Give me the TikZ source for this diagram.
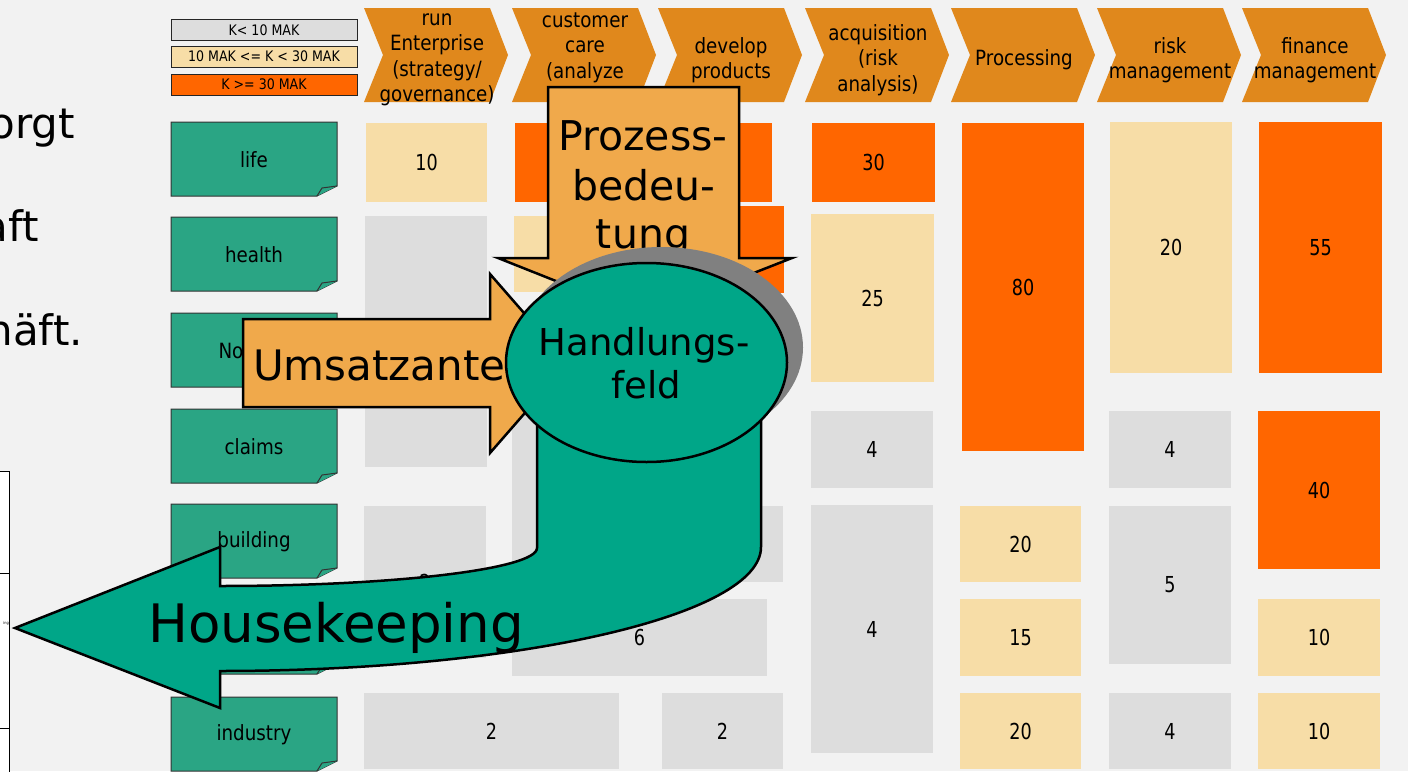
\documentclass[tikz,border=0pt]{standalone}
\usepackage{fontspec}
\setmainfont{DejaVu Sans}
\newfontfamily\tah[FakeStretch=0.87]{DejaVu Sans}
\newfontfamily\tahnum[FakeStretch=0.8]{DejaVu Sans}
\usetikzlibrary{shapes.geometric}

\definecolor{bgc}{HTML}{F2F2F2}
\definecolor{cgray}{HTML}{DDDDDD}
\definecolor{cbeige}{HTML}{F7DDA7}
\definecolor{corange}{HTML}{FF6600}
\definecolor{chevc}{HTML}{E0881C}
\definecolor{lgreen}{HTML}{2AA584}
\definecolor{tealc}{HTML}{00A688}
\definecolor{lorange}{HTML}{F0A94B}
\definecolor{shadowc}{HTML}{808080}

\tikzset{
  cellbox/.style={draw=none, inner sep=0, outer sep=0,
    font=\tahnum\fontsize{22}{26}\selectfont},
  legbox/.style={draw=black!85, line width=0.9pt, inner sep=0,
    minimum width=186pt, minimum height=21pt,
    font=\tah\fontsize{14.5}{16}\selectfont},
  chevshape/.style={fill=chevc, draw=none},
  chevtext/.style={align=center, inner sep=0,
    font=\tah\fontsize{21}{25.5}\selectfont},
  labelshape/.style={fill=lgreen, draw=black!80, line width=1pt},
  labeltext/.style={inner sep=0, font=\tah\fontsize{21}{25}\selectfont},
  bigarrow/.style={draw=black, line width=2.5pt, line join=miter},
  bigtext/.style={inner sep=0},
  lefttext/.style={inner sep=0, text=black,
    font=\fontsize{42}{50}\selectfont},
}

% grid cell: name, x1, y1, x2, y2, colour, value
\newcommand\mkcell[7]{%
  \node[cellbox, fill=#6, minimum width={(#4-#2)*1pt},
    minimum height={(#5-#3)*1pt}] (#1) at ({(#2+#4)/2},{(#3+#5)/2}) {#7};}

% process chevron: name, left x, text
\newcommand\mkchev[3]{%
  \fill[chevshape] (#2,8) -- ({#2+126},8) -- ({#2+144},55) -- ({#2+126},102)
    -- (#2,102) -- ({#2+19},55) -- cycle;
  \node[chevtext] (#1) at ({#2+73},60) {#3};}

% row label with folded corner: name, centre y, text
\newcommand\mkrow[3]{%
  \filldraw[labelshape] (171,{#2-37}) -- (337,{#2-37}) -- (337,{#2+27})
    -- (317,{#2+37}) -- (171,{#2+37}) -- cycle;
  \filldraw[labelshape, line join=round] (317,{#2+37}) -- (322,{#2+29}) -- (337,{#2+27});
  \node[labeltext] (#1) at (254,{#2+1}) {#3};}

\begin{document}
\begin{tikzpicture}[x=1pt, y=-1pt]
  \useasboundingbox (0,0) rectangle (1408,771);
  \fill[bgc] (0,0) rectangle (1408,771);

  % text running in from the left margin
  \node[lefttext, anchor=base east] (lt1) at (75,138) {orgt};
  \node[lefttext, anchor=base east] (lt2) at (39,241) {aft};
  \node[lefttext, anchor=base east] (lt3) at (83,345) {häft.};

  % small table at the lower left edge
  \filldraw[fill=white, draw=black, line width=0.8pt] (-10,471) rectangle (9,790);
  \draw[black, line width=0.8pt] (-10,573) -- (9,573);
  \draw[black, line width=0.8pt] (-10,728) -- (9,728);
  \node[inner sep=0, anchor=east, font=\tah\fontsize{4}{5}\selectfont] (mini) at (9,623) {ing};

  % legend
  \node[legbox, fill=cgray] (leg1) at (264,30) {K< 10 MAK};
  \node[legbox, fill=cbeige] (leg2) at (264,56.5) {10 MAK <= K < 30 MAK};
  \node[legbox, fill=corange] (leg3) at (264,84.5) {K >= 30 MAK};

  % process chain
  \mkchev{p1}{364}{run\\Enterprise\\(strategy/\\governance)}
  \fill[chevshape] (512,8) -- (638,8) -- (656,55) -- (638,102) -- (512,102) -- (531,55) -- cycle;
  \node[chevtext] (p2) at (585,47.5) {customer\\care\\(analyze};
  \mkchev{p3}{658}{develop\\products}
  \mkchev{p4}{805}{acquisition\\(risk\\analysis)}
  \mkchev{p5}{951}{Processing}
  \mkchev{p6}{1097}{risk\\management}
  \mkchev{p7}{1242}{finance\\management}

  % lines of business
  \mkrow{life}{159}{life}
  \mkrow{health}{254}{health}
  \mkrow{nonlife}{350}{Non-life}
  \mkrow{claims}{446}{claims}
  \mkrow{building}{541}{building}
  \mkrow{row6}{637}{}
  \mkrow{industry}{734}{industry}

  % capacity grid
  \mkcell{c1}{366}{123}{487}{202}{cbeige}{10}
  \mkcell{c2}{365}{216}{487}{467}{cgray}{}
  \mkcell{c3}{364}{506}{486}{658}{cgray}{2}
  \mkcell{c4}{364}{693}{619}{769}{cgray}{2}
  \mkcell{c5}{515}{123}{772}{202}{corange}{}
  \mkcell{c6}{514}{216}{640}{292}{cbeige}{}
  \mkcell{c7}{660}{206}{784}{293}{corange}{}
  \mkcell{c8}{512}{310}{640}{582}{cgray}{}
  \mkcell{c9}{660}{506}{783}{582}{cgray}{}
  \mkcell{c10}{512}{599}{767}{676}{cgray}{6}
  \mkcell{c11}{662}{693}{783}{769}{cgray}{2}
  \mkcell{c12}{812}{123}{935}{202}{corange}{30}
  \mkcell{c13}{811}{214}{934}{382}{cbeige}{25}
  \mkcell{c14}{811}{411}{933}{488}{cgray}{4}
  \mkcell{c15}{811}{505}{933}{753}{cgray}{4}
  \mkcell{c16}{962}{123}{1084}{451}{corange}{80}
  \mkcell{c17}{960}{506}{1081}{582}{cbeige}{20}
  \mkcell{c18}{960}{599}{1081}{676}{cbeige}{15}
  \mkcell{c19}{960}{693}{1081}{769}{cbeige}{20}
  \mkcell{c20}{1110}{122}{1232}{373}{cbeige}{20}
  \mkcell{c21}{1109}{411}{1231}{488}{cgray}{4}
  \mkcell{c22}{1109}{506}{1231}{664}{cgray}{5}
  \mkcell{c23}{1109}{693}{1231}{769}{cgray}{4}
  \mkcell{c24}{1259}{122}{1382}{373}{corange}{55}
  \mkcell{c25}{1258}{411}{1380}{569}{corange}{40}
  \mkcell{c26}{1258}{599}{1380}{676}{cbeige}{10}
  \mkcell{c27}{1258}{693}{1380}{769}{cbeige}{10}

  % downward arrow
  \filldraw[bigarrow, fill=lorange] (548,87) -- (739,87) -- (739,258) -- (792,258)
    -- (644,316) -- (498,258) -- (548,258) -- cycle;
  \node[bigtext, anchor=base, font=\fontsize{41}{48}\selectfont] (pz1) at (643,150) {Prozess-};
  \node[bigtext, anchor=base, font=\fontsize{41}{48}\selectfont] (pz2) at (644,200) {bedeu-};
  \node[bigtext, anchor=base, font=\fontsize{41}{48}\selectfont] (pz3) at (643,248) {tung};

  % rightward arrow
  \filldraw[bigarrow, fill=lorange] (243,319) -- (490,319) -- (490,274) -- (568,363.5)
    -- (490,453) -- (490,407) -- (243,407) -- cycle;
  \node[bigtext, anchor=base west, font=\fontsize{42}{50}\selectfont] (um) at (253,380) {Umsatzanteil};

  % U-turn arrow
  \filldraw[bigarrow, fill=tealc] (537,400) -- (537,548)
    arc[start angle=0, end angle=-90, x radius=317pt, y radius=38pt]
    -- (220,547) -- (15,628) -- (220,708) -- (220,671)
    arc[start angle=-90, end angle=0, x radius=541pt, y radius=124pt]
    -- (761,400) -- cycle;
  \node[bigtext, anchor=base west, font=\fontsize{53}{60}\selectfont] (hk) at (148,642) {Housekeeping};

  % field of action
  \node[ellipse, fill=shadowc, draw=none, inner sep=0, minimum width=283pt,
    minimum height=201pt] (hfshadow) at (661.5,347.5) {};
  \node[ellipse, fill=tealc, draw=black, line width=2.5pt, inner sep=0,
    minimum width=281pt, minimum height=199pt] (hf) at (646.5,362.5) {};
  \node[bigtext, anchor=base, font=\fontsize{37}{42}\selectfont] (hf1) at (644,355) {Handlungs-};
  \node[bigtext, anchor=base, font=\fontsize{37}{42}\selectfont] (hf2) at (646,398) {feld};
\end{tikzpicture}
\end{document}
